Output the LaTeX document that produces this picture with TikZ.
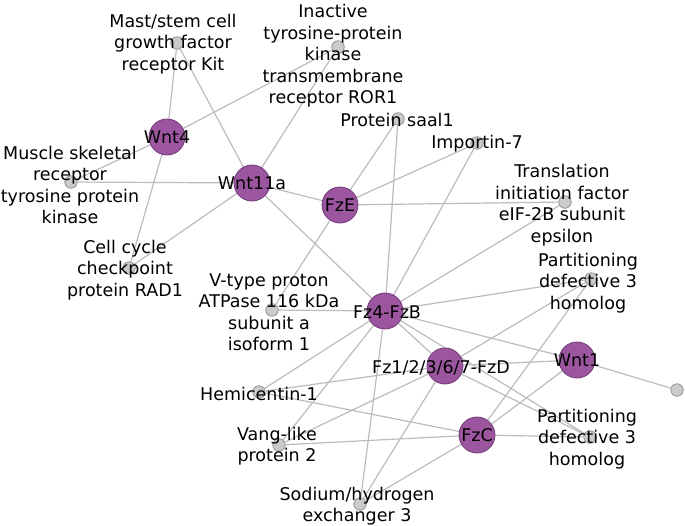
\documentclass[tikz,border=0pt]{standalone}
\usepackage{fontspec}
\setmainfont{DejaVu Sans}
\usetikzlibrary{backgrounds}

\definecolor{wntfill}{RGB}{156,86,160}
\definecolor{wntdraw}{RGB}{112,56,118}
\definecolor{protfill}{RGB}{202,202,202}
\definecolor{protdraw}{RGB}{150,150,150}
\definecolor{linkgray}{RGB}{188,188,188}

\tikzset{
  hub/.style={circle, fill=wntfill, draw=wntdraw, line width=0.8pt, minimum size=36pt, inner sep=0pt},
  prot/.style={circle, fill=protfill, draw=protdraw, line width=0.8pt, minimum size=12.5pt, inner sep=0pt},
  lbl/.style={align=center, inner sep=0pt, font=\fontsize{17.5}{21.5}\selectfont},
  link/.style={draw=linkgray, line width=1.2pt}
}

\begin{document}
\begin{tikzpicture}[x=1pt,y=-1pt]
            \useasboundingbox (0,0) rectangle (685,525);

            % ligands and receptors
            \node [hub] (wnt4)  at (167,137) {};
            \node [hub] (wnt11a) at (252,183) {};
            \node [hub] (fze)   at (340,205) {};
            \node [hub] (fzb)   at (385,311) {};
            \node [hub] (fzd)   at (445,366) {};
            \node [hub] (fzc)   at (477,435) {};
            \node [hub] (wnt1)  at (577,360) {};

            % interacting proteins
            \node [prot] (kit)    at (177,43) {};
            \node [prot] (ror1)   at (338,47) {};
            \node [prot] (musk)   at (71,182) {};
            \node [prot] (rad1)   at (129,268) {};
            \node [prot] (saal1)  at (398,119) {};
            \node [prot] (ipo7)   at (477,143) {};
            \node [prot] (eif2b)  at (565,202) {};
            \node [prot] (vtype)  at (272,310) {};
            \node [prot] (hmcn1)  at (259,392) {};
            \node [prot] (vangl2) at (279,445) {};
            \node [prot] (nhe3)   at (360,504) {};
            \node [prot] (pardtop) at (591,279) {};
            \node [prot] (pardbot) at (590,437) {};
            \node [prot] (orphan) at (677,390) {};

            % interactions
            \begin{scope}[on background layer]
            \foreach \a/\b in {wnt4/kit, wnt4/ror1, wnt4/musk, wnt4/rad1,
                               wnt11a/kit, wnt11a/ror1, wnt11a/musk, wnt11a/rad1, wnt11a/fze, wnt11a/fzb,
                               fze/saal1, fze/ipo7, fze/eif2b, fze/vtype,
                               fzb/saal1, fzb/ipo7, fzb/eif2b, fzb/vtype, fzb/hmcn1, fzb/vangl2, fzb/nhe3,
                               fzb/fzd, fzb/pardtop, fzb/wnt1, fzb/pardbot,
                               fzd/hmcn1, fzd/vangl2, fzd/nhe3, fzd/pardtop, fzd/wnt1, fzd/pardbot,
                               fzc/hmcn1, fzc/vangl2, fzc/nhe3, fzc/pardtop, fzc/wnt1, fzc/pardbot,
                               wnt1/orphan}
              \draw [link] (\a) -- (\b);
            \end{scope}

            % labels
            \node [lbl] (wnt4lbl)   at (wnt4)   {Wnt4};
            \node [lbl] (wnt11albl) at (wnt11a) {Wnt11a};
            \node [lbl] (fzelbl)    at (fze)    {FzE};
            \node [lbl] (fzblbl)    at (387,312) {Fz4-FzB};
            \node [lbl] (fzdlbl)    at (441,368) {Fz1/2/3/6/7-FzD};
            \node [lbl] (fzclbl)    at (fzc)    {FzC};
            \node [lbl] (wnt1lbl)   at (wnt1)   {Wnt1};

            \node [lbl] (kitlbl)    at (173,44) {Mast/stem cell\\growth factor\\receptor Kit};
            \node [lbl] (ror1lbl)   at (333,56) {Inactive\\tyrosine-protein\\kinase\\transmembrane\\receptor ROR1};
            \node [lbl] (musklbl)   at (70,185) {Muscle skeletal\\receptor\\tyrosine protein\\kinase};
            \node [lbl] (rad1lbl)   at (125,270) {Cell cycle\\checkpoint\\protein RAD1};
            \node [lbl] (saal1lbl)  at (397,120) {Protein saal1};
            \node [lbl] (ipo7lbl)   at (477,144) {Importin-7};
            \node [lbl] (eif2blbl)  at (562,205) {Translation\\initiation factor\\eIF-2B subunit\\epsilon};
            \node [lbl] (vtypelbl)  at (269,312) {V-type proton\\ATPase 116 kDa\\subunit a\\isoform 1};
            \node [lbl] (hmcn1lbl)  at (259,394) {Hemicentin-1};
            \node [lbl] (vangl2lbl) at (277,446) {Vang-like\\protein 2};
            \node [lbl] (nhe3lbl)   at (357,506) {Sodium/hydrogen\\exchanger 3};
            \node [lbl] (pardtoplbl) at (588,283) {Partitioning\\defective 3\\homolog};
            \node [lbl] (pardbotlbl) at (587,439) {Partitioning\\defective 3\\homolog};
\end{tikzpicture}
\end{document}
